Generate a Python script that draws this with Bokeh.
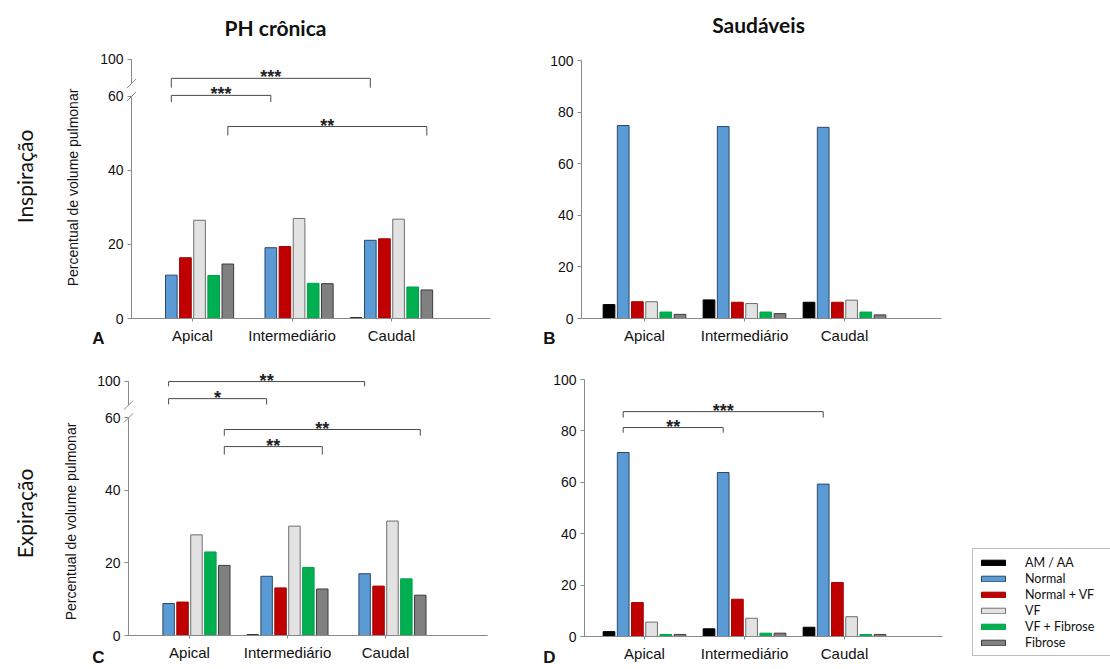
import math
from bokeh.plotting import figure
from bokeh.models import (FixedTicker, Legend, LegendItem, Range1d, LinearAxis)
from bokeh.embed import file_html
from bokeh.resources import INLINE
from bokeh.core.properties import value

# ---------------- data ----------------
regions = ["Apical", "Intermediário", "Caudal"]
series = ["AM / AA", "Normal", "Normal + VF", "VF", "VF + Fibrose", "Fibrose"]

# A: PH crônica - Inspiração
ph_insp_am_aa = [0.0, 0.0, 0.2]
ph_insp_normal = [11.7, 19.1, 21.1]
ph_insp_normal_vf = [16.4, 19.4, 21.5]
ph_insp_vf = [26.5, 27.0, 26.8]
ph_insp_vf_fibrose = [11.6, 9.5, 8.5]
ph_insp_fibrose = [14.7, 9.4, 7.7]

# B: Saudáveis - Inspiração
sa_insp_am_aa = [5.4, 7.2, 6.3]
sa_insp_normal = [74.8, 74.4, 74.1]
sa_insp_normal_vf = [6.5, 6.3, 6.3]
sa_insp_vf = [6.5, 5.8, 7.1]
sa_insp_vf_fibrose = [2.5, 2.5, 2.5]
sa_insp_fibrose = [1.6, 1.9, 1.4]

# C: PH crônica - Expiração
ph_exp_am_aa = [0.0, 0.2, 0.0]
ph_exp_normal = [8.8, 16.3, 17.0]
ph_exp_normal_vf = [9.2, 13.1, 13.6]
ph_exp_vf = [27.7, 30.1, 31.5]
ph_exp_vf_fibrose = [23.0, 18.7, 15.6]
ph_exp_fibrose = [19.3, 12.8, 11.1]

# D: Saudáveis - Expiração
sa_exp_am_aa = [1.9, 3.0, 3.6]
sa_exp_normal = [71.6, 63.8, 59.3]
sa_exp_normal_vf = [13.2, 14.5, 21.0]
sa_exp_vf = [5.6, 7.1, 7.7]
sa_exp_vf_fibrose = [0.8, 1.3, 0.8]
sa_exp_fibrose = [0.8, 1.3, 0.8]

# y tick labels (broken axis: 100 shown above the 60 tick)
ticks_broken = [0, 20, 40, 60, 70]
ticks_broken_labels = ["0", "20", "40", "60", "100"]
ticks_full = [0, 20, 40, 60, 80, 100]

# significance brackets: (from region, to region, series index, label)
sig_A = [(0, 2, 1, "***"), (0, 1, 1, "***"), (0, 2, 5, "**")]
sig_C = [(0, 2, 1, "**"), (0, 1, 1, "*"), (0, 2, 5, "**"), (0, 1, 5, "**")]
sig_D = [(0, 2, 1, "***"), (0, 1, 1, "**")]

# ---------------- style / layout ----------------
W, H = 1110, 669
fills = ["#000000", "#5b9bd5", "#c00000", "#e2e2e2", "#00b050", "#808080"]
lines = ["#000000", "#2c4766", "#a00000", "#6e6e6e", "#00a048", "#3c3c3c"]
AXIS = "#8a8a8a"
SLOT = 0.142
BARW = 0.117

# bracket heights (level, end) in display units
lev_A = [(64.8, 62.3), (60.2, 58.4), (51.8, 49.4)]
lev_C = [(69.9, 68.6), (65.2, 63.6), (56.7, 55.0), (52.0, 49.8)]
lev_D = [(87.5, 85.2), (81.3, 79.3)]

# panel geometry in canvas pixels: axis left/right, baseline, first group centre,
# px per group, px per percent
geo = {
    "A": dict(L=131, R=490, B=318, c0=192, pxu=99.5, ppu=3.706),
    "B": dict(L=581, R=941, B=318, c0=644, pxu=100.0, ppu=2.58),
    "C": dict(L=128, R=487, B=635, c0=189, pxu=98.0, ppu=3.633),
    "D": dict(L=584, R=942, B=636, c0=644, pxu=100.0, ppu=2.57),
}

p = figure(width=W, height=H, x_range=Range1d(0, W), y_range=Range1d(H, 0),
           x_axis_type=None, y_axis_type=None, output_backend="svg",
           toolbar_location=None, min_border=0)
p.title.visible = False
p.outline_line_color = None
p.grid.visible = False
p.background_fill_color = "white"
p.border_fill_color = "white"

for k, g in geo.items():
    p.extra_x_ranges["x" + k] = Range1d((0 - g["c0"]) / g["pxu"], (W - g["c0"]) / g["pxu"])
    p.extra_y_ranges["y" + k] = Range1d((g["B"] - H) / g["ppu"], g["B"] / g["ppu"])


def style_axis(ax):
    ax.major_tick_line_color = AXIS
    ax.major_tick_in = 0
    ax.minor_tick_line_color = None
    ax.major_label_text_font = "Liberation Sans"
    ax.major_label_text_color = "#111111"


def make_panel(k, vals, broken):
    g = geo[k]
    xr, yr = "x" + k, "y" + k
    x0 = (g["L"] - g["c0"]) / g["pxu"]
    x1 = (g["R"] - g["c0"]) / g["pxu"]
    rends = []
    for j, v in enumerate(vals):
        xs = [i + (j - 2.5) * SLOT for i in range(len(regions))]
        r = p.vbar(x=xs, top=v, bottom=0, width=BARW, fill_color=fills[j],
                   line_color=lines[j], line_width=1, x_range_name=xr, y_range_name=yr)
        rends.append(r)

    xa = LinearAxis(x_range_name=xr, y_range_name=yr, fixed_location=0, bounds=(x0, x1),
                    ticker=FixedTicker(ticks=list(range(len(regions)))),
                    major_label_overrides={i: r for i, r in enumerate(regions)})
    style_axis(xa)
    xa.axis_line_color = AXIS
    xa.major_tick_out = 3
    xa.major_label_standoff = 5
    xa.major_label_text_font_size = "15px"
    p.add_layout(xa, "below")

    ya = LinearAxis(x_range_name=xr, y_range_name=yr, fixed_location=x0)
    style_axis(ya)
    ya.major_tick_out = 4
    ya.major_label_standoff = 4
    ya.major_label_text_font_size = "14px"
    if broken:
        ya.ticker = FixedTicker(ticks=ticks_broken)
        ya.major_label_overrides = {t: l for t, l in zip(ticks_broken, ticks_broken_labels)}
        ya.axis_line_color = None
        # broken y axis line with "//" marks
        dx = 4.5 / g["pxu"]
        dy = 4.5 / g["ppu"]
        p.segment(x0=[x0, x0], y0=[0, 63.4], x1=[x0, x0], y1=[59.9, ticks_broken[-1]],
                  line_color=AXIS, line_width=1, x_range_name=xr, y_range_name=yr)
        p.segment(x0=[x0 - dx, x0 - dx], y0=[59.9 - dy, 63.4 - dy],
                  x1=[x0 + dx, x0 + dx], y1=[59.9 + dy, 63.4 + dy],
                  line_color=AXIS, line_width=1, x_range_name=xr, y_range_name=yr)
    else:
        ya.ticker = FixedTicker(ticks=ticks_full)
        ya.axis_line_color = AXIS
        ya.bounds = (0, ticks_full[-1])
    p.add_layout(ya, "left")
    return rends


def add_brackets(k, sig, levels):
    xr, yr = "x" + k, "y" + k
    xs_l, ys_l, tx, ty, tt = [], [], [], [], []
    for (a, b, j, lab), (lev, end) in zip(sig, levels):
        xa = a + (j - 2.5) * SLOT
        xb = b + (j - 2.5) * SLOT
        xs_l.append([xa, xa, xb, xb])
        ys_l.append([end, lev, lev, end])
        tx.append((xa + xb) / 2)
        ty.append(lev)
        tt.append(lab)
    p.multi_line(xs=xs_l, ys=ys_l, line_color="#4a4a4a", line_width=1,
                 x_range_name=xr, y_range_name=yr)
    p.text(x=tx, y=ty, text=tt, text_align="center", text_baseline="alphabetic",
           y_offset=-1, text_font=value("Liberation Sans"), text_font_style="bold",
           text_font_size="18px", text_color="#222222", x_range_name=xr, y_range_name=yr)


make_panel("A", [ph_insp_am_aa, ph_insp_normal, ph_insp_normal_vf, ph_insp_vf,
                 ph_insp_vf_fibrose, ph_insp_fibrose], True)
make_panel("B", [sa_insp_am_aa, sa_insp_normal, sa_insp_normal_vf, sa_insp_vf,
                 sa_insp_vf_fibrose, sa_insp_fibrose], False)
make_panel("C", [ph_exp_am_aa, ph_exp_normal, ph_exp_normal_vf, ph_exp_vf,
                 ph_exp_vf_fibrose, ph_exp_fibrose], True)
rD = make_panel("D", [sa_exp_am_aa, sa_exp_normal, sa_exp_normal_vf, sa_exp_vf,
                      sa_exp_vf_fibrose, sa_exp_fibrose], False)

add_brackets("A", sig_A, lev_A)
add_brackets("C", sig_C, lev_C)
add_brackets("D", sig_D, lev_D)


def add_text(px, py, text, font="Liberation Sans", size="14px", style="normal", angle=0.0):
    p.text(x=[px], y=[py], text=[text], angle=angle, text_align="center",
           text_baseline="middle", text_font=value(font), text_font_size=size,
           text_font_style=style, text_color="#111111")


# titles and labels (canvas pixel positions)
add_text(275, 27, "PH crônica", font="Lato", size="21px", style="bold")
add_text(758, 24, "Saudáveis", font="Lato", size="21px", style="bold")
add_text(24, 176, "Inspiração", font="Lato", size="21px", angle=math.pi / 2)
add_text(24, 513, "Expiração", font="Lato", size="21px", angle=math.pi / 2)
add_text(72, 187, "Percentual de volume pulmonar", size="14px", angle=math.pi / 2)
add_text(70, 521, "Percentual de volume pulmonar", size="14px", angle=math.pi / 2)
add_text(98, 338, "A", size="17px", style="bold")
add_text(549, 338, "B", size="17px", style="bold")
add_text(98, 657, "C", size="17px", style="bold")
add_text(549, 657, "D", size="17px", style="bold")

legend = Legend(items=[LegendItem(label=s, renderers=[r]) for s, r in zip(series, rD)],
                location=(972, H - 656), orientation="vertical",
                border_line_color="#7f7f7f", border_line_width=1,
                background_fill_color="white", background_fill_alpha=1.0,
                padding=5, spacing=0, margin=0, label_height=16,
                glyph_height=7, glyph_width=30, label_standoff=17, label_width=110,
                label_text_font="Lato", label_text_font_size="12.5px",
                label_text_color="#111111")
p.add_layout(legend)

open("out.html", "w").write(file_html(p, INLINE))
